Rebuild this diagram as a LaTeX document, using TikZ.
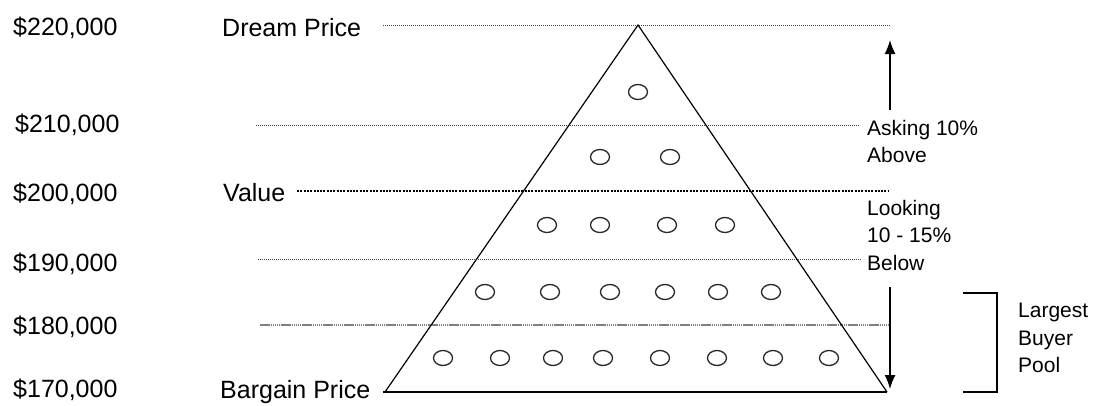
\documentclass[tikz,border=0pt]{standalone}
\usepackage{fontspec}
\setmainfont{Liberation Sans}
\usetikzlibrary{arrows.meta,shapes.geometric}
\begin{document}
\begin{tikzpicture}[x=1pt,y=-1pt,
  price/.style={anchor=base west,inner sep=0pt,font=\fontsize{25}{30}\selectfont},
  note/.style={anchor=north west,inner sep=0pt,align=left,font=\fontsize{21}{27.5}\selectfont},
  level/.style={black!75,line width=1pt,dash pattern=on 1pt off 1pt},
  greylevel/.style={black!50,line width=1.6pt,dash pattern=on 1.5pt off 0.6pt},
  valueline/.style={black,line width=2.2pt,dash pattern=on 2pt off 1.3pt},
  pyramid/.style={draw=black,line width=1.2pt,line join=miter},
  baseline/.style={black,line width=2.8pt},
  buyer/.style={draw=black!85,ellipse,minimum width=19pt,minimum height=15pt,inner sep=0pt,line width=1.3pt},
  pointer/.style={black,line width=1.5pt,-{Latex[length=14pt,width=11pt]}},
  bracket/.style={black,line width=1.3pt}]
\useasboundingbox (0,0) rectangle (1096,405);

% price labels
\node[price] (p220) at (13,35)  {\$220,000};
\node[price] (p210) at (15,132) {\$210,000};
\node[price] (p200) at (13,201) {\$200,000};
\node[price] (p190) at (13,271) {\$190,000};
\node[price] (p180) at (13,334) {\$180,000};
\node[price] (p170) at (13,397) {\$170,000};

% named levels
\node[price] (dream) at (222,36) {Dream Price};
\node[price] (value) at (223,201) {Value};
\node[price] (bargain) at (220,398) {Bargain Price};

% level line ends
\coordinate (d1) at (383,25);  \coordinate (d2) at (890,25);
\coordinate (a1) at (256,125); \coordinate (a2) at (860,125);
\coordinate (v1) at (297,191); \coordinate (v2) at (889,191);
\coordinate (b1) at (258,259); \coordinate (b2) at (861,259);
\coordinate (c1) at (260,325); \coordinate (c2) at (888,325);
\coordinate (g1) at (383,392); \coordinate (g2) at (887,392);

\draw[level] (d1) -- (d2);
\draw[level] (a1) -- (a2);
\draw[valueline] (v1) -- (v2);
\draw[level] (b1) -- (b2);
\draw[greylevel] (c1) -- (c2);

% pyramid
\coordinate (apex) at (638,25);
\coordinate (left) at (385,392);
\coordinate (right) at (887,392);
\draw[pyramid] (left) -- (apex) -- (right);
\draw[baseline] (g1) -- (g2);

% buyers
\foreach \x [count=\i] in {638}{\node[buyer] (r1-\i) at (\x,92) {};}
\foreach \x [count=\i] in {600,670}{\node[buyer] (r2-\i) at (\x,157) {};}
\foreach \x [count=\i] in {547,600,667,725}{\node[buyer] (r3-\i) at (\x,225) {};}
\foreach \x [count=\i] in {485,550,610,665,718,771}{\node[buyer] (r4-\i) at (\x,292) {};}
\foreach \x [count=\i] in {443,500,553,603,660,717,773,829}{\node[buyer] (r5-\i) at (\x,358) {};}

% arrows
\coordinate (up1) at (890,110); \coordinate (up2) at (890,40);
\coordinate (dn1) at (890,287); \coordinate (dn2) at (890,389);
\draw[pointer] (up1) -- (up2);
\draw[pointer] (dn1) -- (dn2);

% notes
\node[note] (asking) at (867,120) {Asking 10\%\\Above};
\node[note] (looking) at (867,200) {Looking\\10 - 15\%\\Below};
\node[note] (pool) at (1018,303) {Largest\\Buyer\\Pool};

% bracket
\coordinate (k1) at (963,293); \coordinate (k2) at (997,293);
\coordinate (k3) at (997,392); \coordinate (k4) at (963,392);
\draw[bracket] (k1) -- (k2) -- (k3) -- (k4);
\end{tikzpicture}
\end{document}
